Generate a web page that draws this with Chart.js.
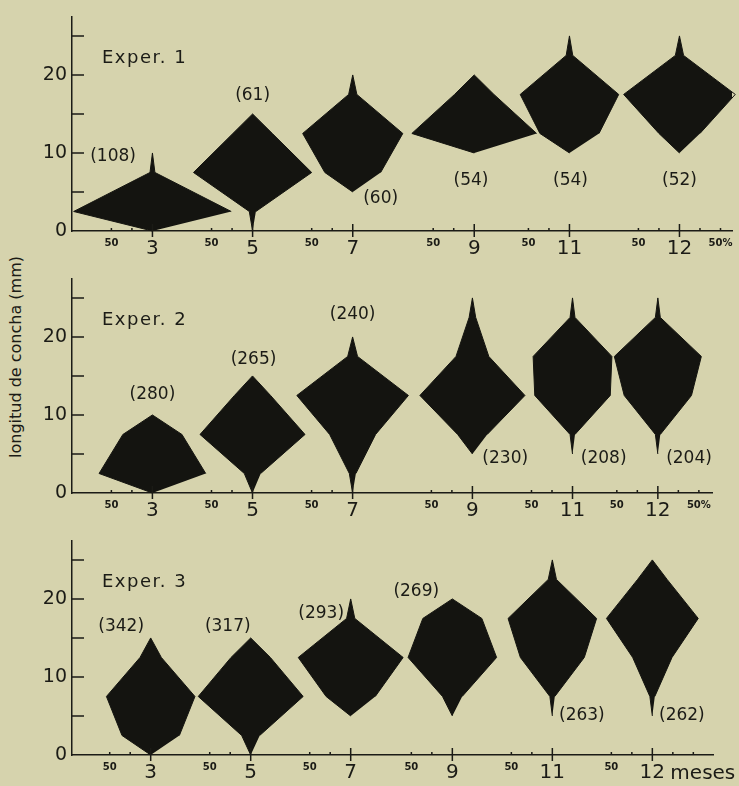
<!DOCTYPE html>
<html>
<head>
<meta charset="utf-8">
<script src="https://cdn.jsdelivr.net/npm/chart.js@4.4.1/dist/chart.umd.min.js"></script>
<style>
  body { margin: 0; background: #d6d3ad; width: 739px; height: 786px; overflow: hidden; position: relative; }
  canvas { position: absolute; left: 0; }
  #ytitle {
    position: absolute; left: 15px; top: 357px;
    transform: translate(-50%, -50%) rotate(-90deg);
    font: 16px "DejaVu Sans"; color: #1b1b16; white-space: nowrap;
  }
</style>
</head>
<body>
<div id="ytitle">longitud de concha (mm)</div>
<canvas id="c1" width="739" height="260" style="top:0px"></canvas>
<canvas id="c2" width="739" height="260" style="top:262px"></canvas>
<canvas id="c3" width="739" height="262" style="top:524px"></canvas>
<script>
// length classes (mm, class mid points) and sampling months
const classMid = [2.5, 7.5, 12.5, 17.5, 22.5];
const months = ['3', '5', '7', '9', '11', '12'];

// where each month sits on the %-scale of each panel
const exp1Pos = [49, 110, 171, 245, 303, 370];
const exp2Pos = [49, 110, 171, 244, 305, 357];
const exp3Pos = [48, 109, 170, 232, 293, 354];

// frequency (%) of each length class, one row per month
const exp1Freq = [
    [96, 3, 0, 0, 0],
    [4, 72, 24, 0, 0],
    [0, 34, 61, 5, 0],
    [0, 0, 76, 24, 0],
    [0, 0, 36, 60, 4],
    [0, 0, 25, 68, 5]
];
const exp2Freq = [
    [65, 36, 0, 0, 0],
    [10, 64, 22, 0, 0],
    [4, 28, 68, 6, 0],
    [0, 18, 64, 20, 4],
    [0, 3, 46, 48, 3],
    [0, 3, 41, 53, 3]
];
const exp3Freq = [
    [35, 54, 13, 0, 0],
    [11, 64, 24, 0, 0],
    [0, 30, 64, 5, 0],
    [0, 12, 54, 36, 0],
    [0, 3, 39, 54, 5],
    [0, 3, 24, 56, 18]
];

// number of shells measured
const exp1N = [108, 61, 60, 54, 54, 52];
const exp2N = [280, 265, 240, 230, 208, 204];
const exp3N = [342, 317, 293, 269, 263, 262];

const yTicks = [0, 5, 10, 15, 20, 25];

// label placement (offset from month in %, height in mm)
const exp1LabelAt = [[-24, 9.5], [0, 17.3], [17, 4.2], [-2, 6.4], [0.6, 6.4], [0, 6.4]];
const exp2LabelAt = [[0, 12.6], [0.6, 17.1], [0, 22.9], [20, 4.4], [19, 4.4], [19, 4.4]];
const exp3LabelAt = [[-18, 16.4], [-14, 16.4], [-18, 18.1], [-22, 20.9], [18, 5.0], [18, 5.0]];

const ink = '#1b1b16';
const kiteColor = '#141410';
const font = '"DejaVu Sans"';

// kite outline: up the left side, down the right side
function kitePoints(center, freq) {
    let first = freq.findIndex(f => f > 0);
    let last = freq.length - 1;
    while (freq[last] <= 0) last--;
    let pts = [{ x: center, y: classMid[first] - 2.5 }];
    for (let i = first; i <= last; i++) pts.push({ x: center - freq[i] / 2, y: classMid[i] });
    pts.push({ x: center, y: classMid[last] + 2.5 });
    for (let i = last; i >= first; i--) pts.push({ x: center + freq[i] / 2, y: classMid[i] });
    return pts;
}

function buildXTicks(pos, lastLabel) {
    let t = [];
    pos.forEach(function (c, i) {
        t.push({ v: c - 25, l: '50', k: 's' });
        t.push({ v: c - 12.5, l: '', k: 'm' });
        t.push({ v: c, l: months[i], k: 'M' });
    });
    let last = pos[pos.length - 1];
    t.push({ v: last + 12.5, l: '', k: 'm' });
    t.push({ v: last + 25, l: lastLabel, k: 's' });
    return t;
}

function makeExtras(cfg, xt) {
    return {
        id: 'kiteExtras',
        afterDraw(chart) {
            const ctx = chart.ctx, xs = chart.scales.x, ys = chart.scales.y, area = chart.chartArea;
            ctx.save();
            ctx.strokeStyle = ink;
            ctx.lineWidth = 1.5;
            ctx.beginPath();
            ys.ticks.forEach(function (t) {
                if (t.value === 0) return;
                let py = ys.getPixelForValue(t.value);
                ctx.moveTo(area.left, py);
                ctx.lineTo(area.left + 12, py);
            });
            xs.ticks.forEach(function (t, i) {
                let px = xs.getPixelForValue(t.value);
                if (xt[i].k === 'M') {
                    ctx.moveTo(px, area.bottom - 7);
                    ctx.lineTo(px, area.bottom + 6);
                } else {
                    ctx.moveTo(px, area.bottom - 3);
                    ctx.lineTo(px, area.bottom);
                }
            });
            ctx.stroke();

            ctx.fillStyle = ink;
            ctx.textAlign = 'center';
            ctx.textBaseline = 'middle';
            ctx.font = '17px ' + font;
            cfg.counts.forEach(function (n, i) {
                let at = cfg.labelAt[i];
                ctx.fillText('(' + n + ')', xs.getPixelForValue(cfg.pos[i] + at[0]), ys.getPixelForValue(at[1]));
            });

            ctx.textAlign = 'left';
            ctx.font = '18px ' + font;
            ctx.letterSpacing = '1.5px';
            ctx.fillText(cfg.title, area.left + 30, ys.getPixelForValue(22.1));
            ctx.letterSpacing = '0px';

            if (cfg.unit) {
                // sits on the same baseline as the month numbers
                ctx.font = '20px ' + font;
                ctx.textBaseline = 'alphabetic';
                let last = cfg.pos[cfg.pos.length - 1];
                ctx.fillText(cfg.unit, xs.getPixelForValue(last) + 18, area.bottom + 24);
            }
            ctx.restore();
        }
    };
}

function drawPanel(id, cfg) {
    const xt = buildXTicks(cfg.pos, cfg.lastLabel);
    const datasets = cfg.freq.map(function (f, i) {
        return {
            label: 'mes ' + months[i],
            data: kitePoints(cfg.pos[i], f),
            showLine: true,
            fill: 'shape',
            backgroundColor: kiteColor,
            borderColor: kiteColor,
            borderWidth: 1,
            pointRadius: 0,
            tension: 0,
            clip: false
        };
    });
    return new Chart(document.getElementById(id), {
        type: 'scatter',
        data: { datasets: datasets },
        options: {
            responsive: false,
            animation: false,
            layout: { padding: { top: 11, right: cfg.padRight, left: 0, bottom: 0 } },
            plugins: { legend: { display: false }, tooltip: { enabled: false } },
            scales: {
                x: {
                    type: 'linear',
                    min: 0,
                    max: cfg.xMax,
                    grid: { display: false, drawTicks: false, tickLength: 0 },
                    border: { color: ink, width: 1.5 },
                    afterBuildTicks: function (axis) {
                        axis.ticks = xt.map(t => ({ value: t.v }));
                    },
                    afterFit: function (scale) { scale.height = cfg.axisH; },
                    ticks: {
                        autoSkip: false,
                        maxRotation: 0,
                        minRotation: 0,
                        padding: 6,
                        color: ink,
                        callback: (v, i) => xt[i] ? xt[i].l : '',
                        font: function (c) {
                            let k = xt[c.index] ? xt[c.index].k : 's';
                            return k === 'M' ? { family: font, size: 20 } : { family: font, size: 10, weight: 'bold' };
                        }
                    }
                },
                y: {
                    type: 'linear',
                    min: 0,
                    max: 27.5,
                    grid: { display: false, drawTicks: false, tickLength: 0 },
                    border: { color: ink, width: 1.5 },
                    afterBuildTicks: function (axis) {
                        axis.ticks = yTicks.map(v => ({ value: v }));
                    },
                    afterFit: function (scale) { scale.width = 72; },
                    ticks: {
                        padding: 5,
                        color: ink,
                        font: { family: font, size: 19 },
                        callback: v => (v % 10 === 0 ? String(v) : '')
                    }
                }
            }
        },
        plugins: [makeExtras(cfg, xt)]
    });
}

drawPanel('c1', { pos: exp1Pos, freq: exp1Freq, counts: exp1N, labelAt: exp1LabelAt,
    title: 'Exper. 1', lastLabel: '50%', xMax: 402, padRight: 7, axisH: 29 });
drawPanel('c2', { pos: exp2Pos, freq: exp2Freq, counts: exp2N, labelAt: exp2LabelAt,
    title: 'Exper. 2', lastLabel: '50%', xMax: 390, padRight: 27, axisH: 29 });
drawPanel('c3', { pos: exp3Pos, freq: exp3Freq, counts: exp3N, labelAt: exp3LabelAt,
    title: 'Exper. 3', lastLabel: '', xMax: 391, padRight: 26, axisH: 31, unit: 'meses' });
</script>
</body>
</html>
